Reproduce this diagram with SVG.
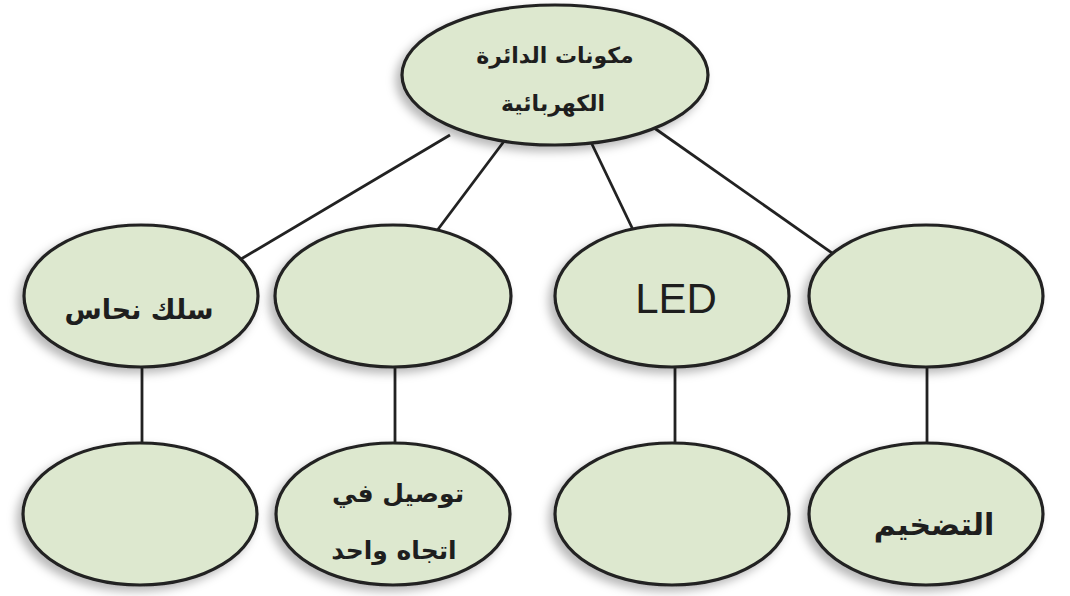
<svg xmlns="http://www.w3.org/2000/svg" width="1070" height="596" viewBox="0 0 1070 596">
<defs>
<filter id="sh" x="-20%" y="-20%" width="140%" height="150%">
<feDropShadow dx="-5" dy="5" stdDeviation="5" flood-color="#000" flood-opacity="0.28"/>
</filter>
<style>
.n{fill:#dde8cf;stroke:#222222;stroke-width:3.2;filter:url(#sh)}
.c line{stroke:#222222;stroke-width:2.8}
.t{font-family:"DejaVu Sans",sans-serif;font-weight:bold;fill:#1e1e1e;text-anchor:middle}
.e{font-family:"Liberation Sans",Arial,sans-serif;fill:#1e1e1e;text-anchor:middle}
</style>
</defs>
<rect width="1070" height="596" fill="#ffffff"/>
<g id="connectors" class="c">
<line x1="450" y1="135" x2="236" y2="262"/>
<line x1="505" y1="140" x2="430" y2="240"/>
<line x1="590" y1="140" x2="636" y2="236"/>
<line x1="650" y1="125" x2="842" y2="260"/>
<line x1="142" y1="360" x2="142" y2="450"/>
<line x1="395" y1="360" x2="395" y2="450"/>
<line x1="675" y1="360" x2="675" y2="450"/>
<line x1="927" y1="360" x2="927" y2="450"/>
</g>
<g id="root"><ellipse class="n" cx="555" cy="75" rx="153" ry="70"/>
<text class="t" x="555" y="63" font-size="22" direction="rtl">مكونات الدائرة</text>
<text class="t" x="553" y="111" font-size="22" direction="rtl">الكهربائية</text></g>
<g id="n1"><ellipse class="n" cx="141" cy="296" rx="117" ry="71"/>
<text class="t" x="139" y="319" font-size="27" direction="rtl">سلك نحاس</text></g>
<g id="n2"><ellipse class="n" cx="393" cy="296" rx="118" ry="71"/></g>
<g id="n3"><ellipse class="n" cx="672" cy="296" rx="117" ry="71"/>
<text class="e" x="676" y="313" font-size="42">LED</text></g>
<g id="n4"><ellipse class="n" cx="926" cy="296" rx="117" ry="71"/></g>
<g id="n5"><ellipse class="n" cx="140" cy="514" rx="117" ry="71"/></g>
<g id="n6"><ellipse class="n" cx="393" cy="514" rx="117" ry="71"/>
<text class="t" x="398" y="502" font-size="25" direction="rtl">توصيل في</text>
<text class="t" x="394" y="559" font-size="25" direction="rtl">اتجاه واحد</text></g>
<g id="n7"><ellipse class="n" cx="672" cy="514" rx="117" ry="71"/></g>
<g id="n8"><ellipse class="n" cx="926" cy="514" rx="117" ry="71"/>
<text class="t" x="934" y="535" font-size="30" direction="rtl">التضخيم</text></g>
</svg>
